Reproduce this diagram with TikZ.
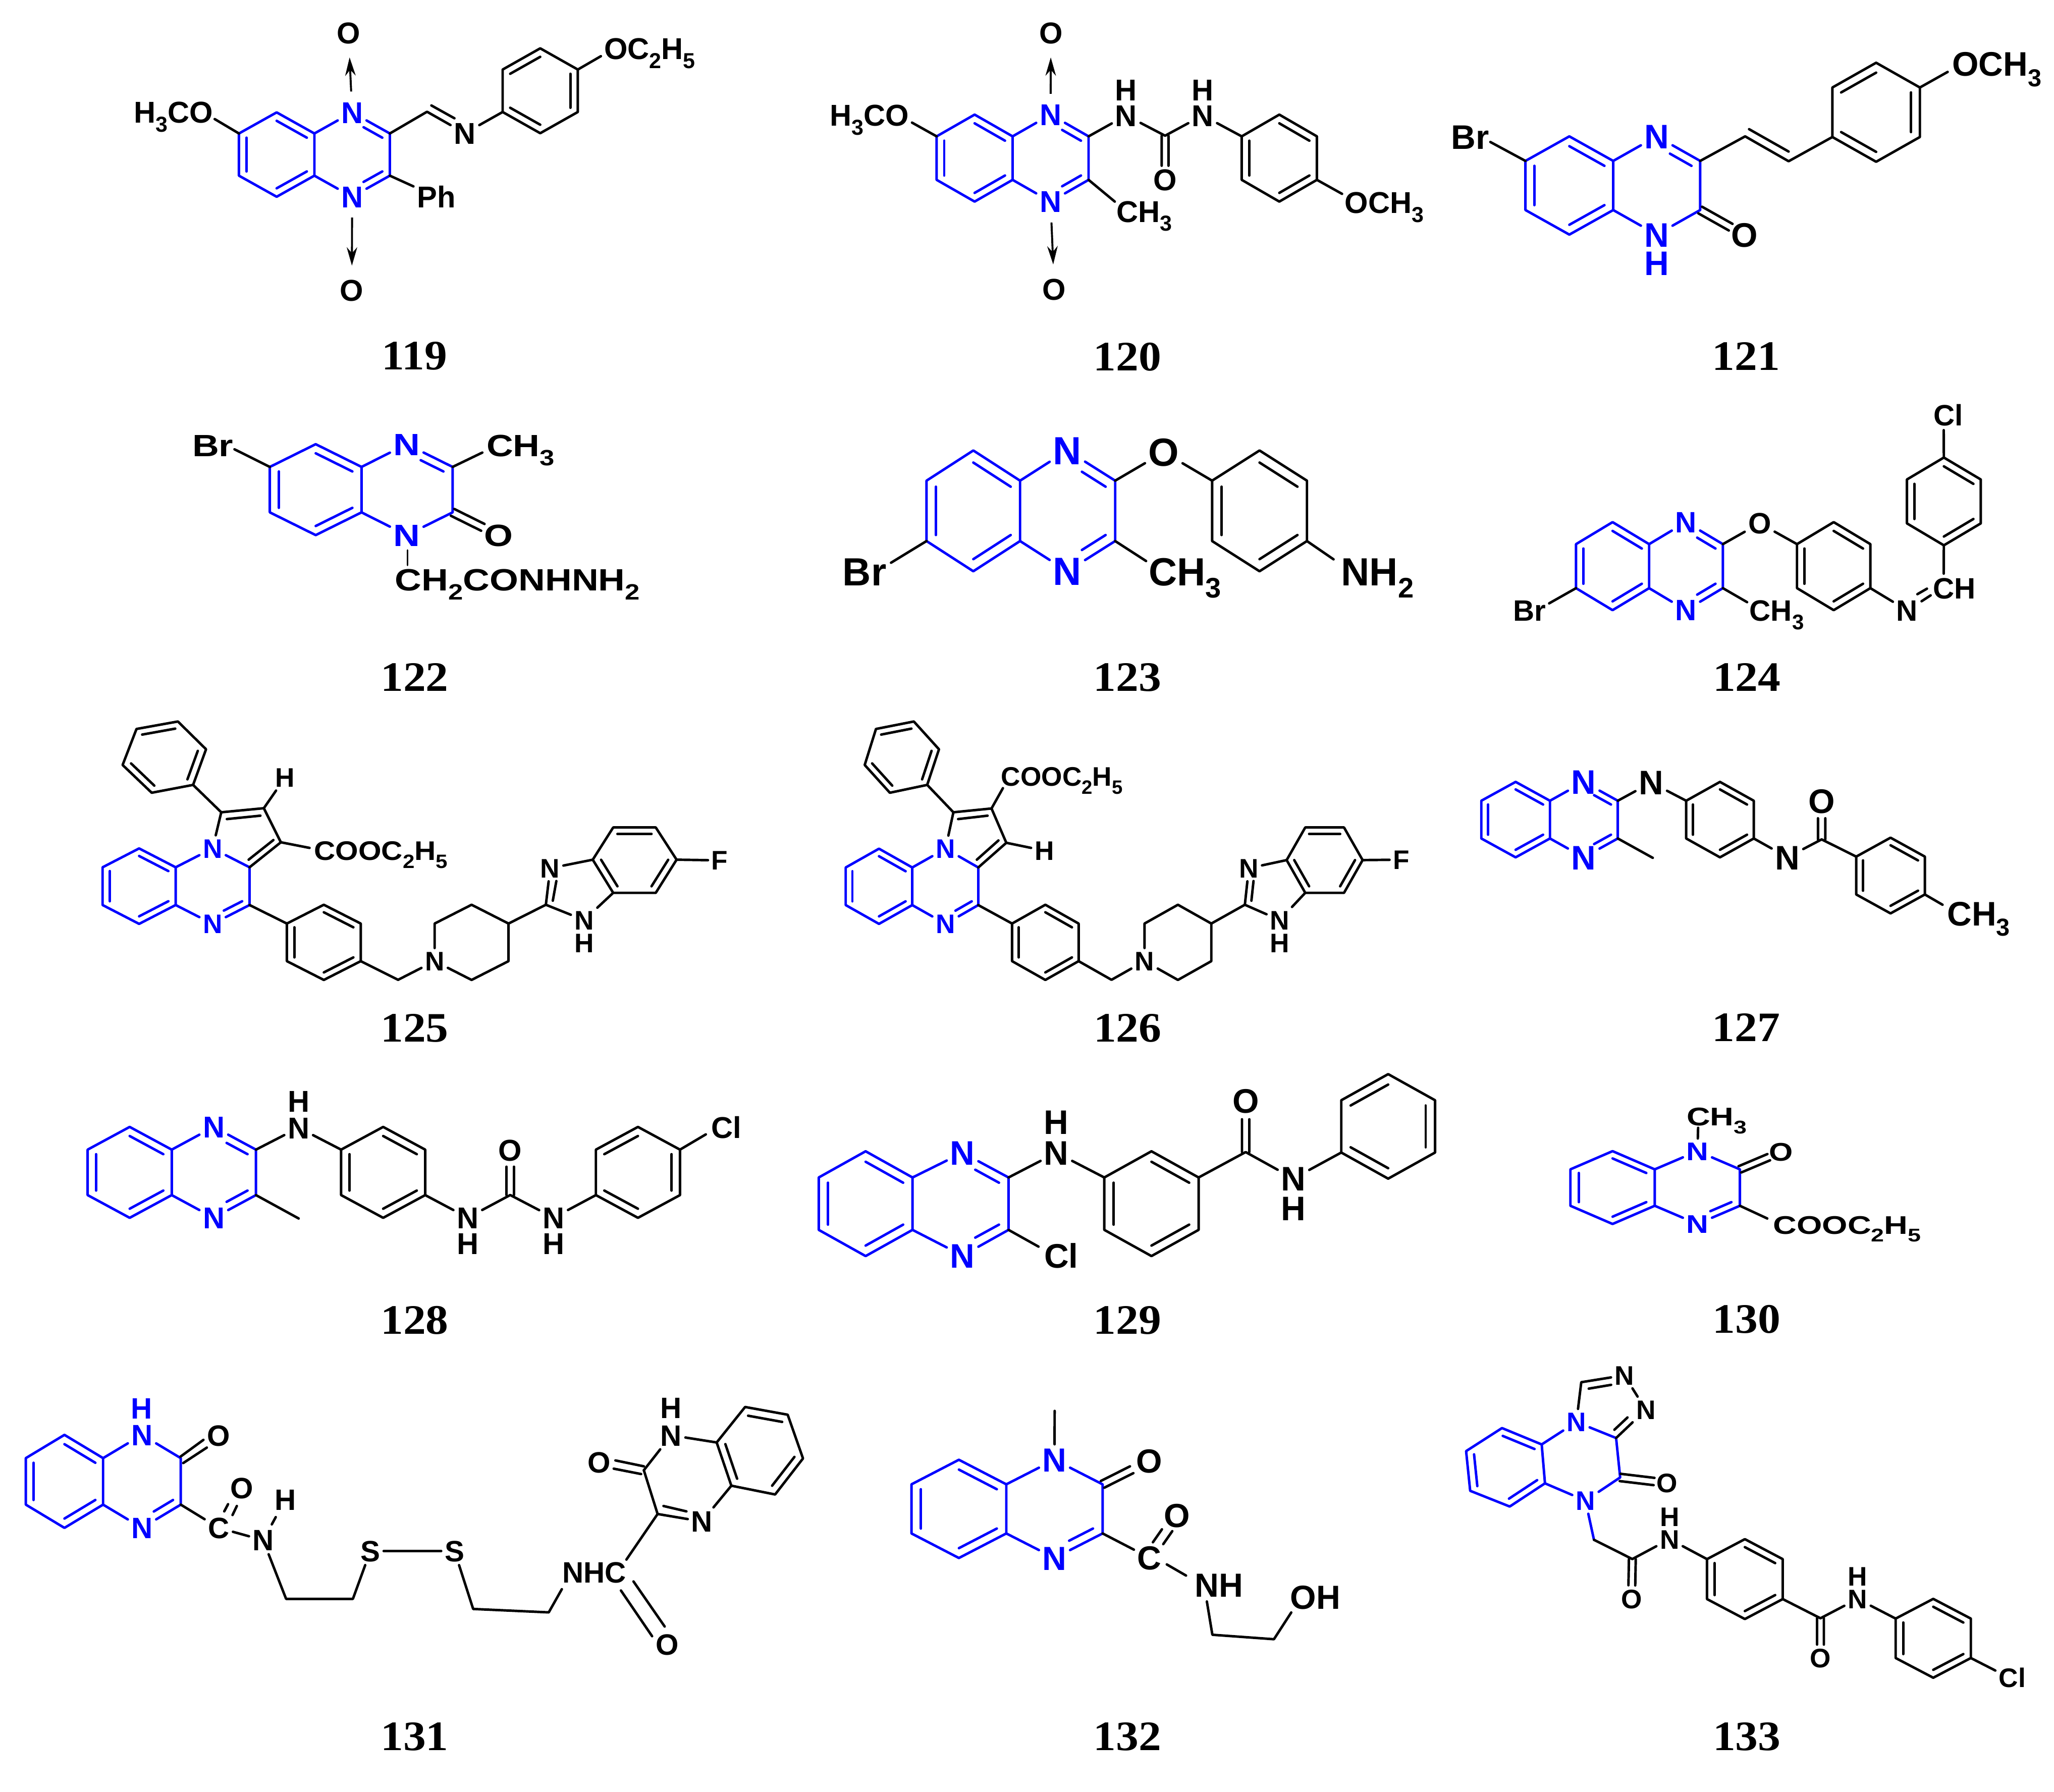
\documentclass[tikz,border=0pt]{standalone}
\usepackage{fontspec}
\setmainfont{Liberation Sans}
\newfontfamily\numfont{Liberation Serif}
\usetikzlibrary{calc,arrows.meta}
\definecolor{qblue}{RGB}{0,0,255}
\tikzset{
	bond/.style={line width=1.9pt,line cap=round,line join=round},
	qbond/.style={bond,color=qblue},
	oxide/.style={-{Stealth[length=14pt,width=8pt]},line width=1.5pt,shorten <=5pt,shorten >=8pt},
	atom/.style={font=\fontsize{#1}{#1}\selectfont\bfseries,text height=0.716*#1pt,text depth=0pt,inner sep=2.5pt},
	qatom/.style={atom=#1,text=qblue},
	numlab/.style={font=\fontsize{32}{32}\selectfont\numfont\bfseries,inner sep=0pt}
}
\newcommand{\sbs}[1]{\raisebox{-.3em}{\scalebox{.72}{#1}}}
\newcommand{\wx}[2][1.2]{\scalebox{#1}[1]{#2}}
\newcommand{\hexring}[5]{
	\coordinate (#1-c) at (#2,#3);
	\coordinate (#1-1) at (#2,{#3-#5});
	\coordinate (#1-2) at ({#2+#4},{#3-#5/2});
	\coordinate (#1-3) at ({#2+#4},{#3+#5/2});
	\coordinate (#1-4) at (#2,{#3+#5});
	\coordinate (#1-5) at ({#2-#4},{#3+#5/2});
	\coordinate (#1-6) at ({#2-#4},{#3-#5/2});
}
\newcommand{\hexpts}[7]{
	\coordinate (#1-1) at #2;
	\coordinate (#1-2) at #3;
	\coordinate (#1-3) at #4;
	\coordinate (#1-4) at #5;
	\coordinate (#1-5) at #6;
	\coordinate (#1-6) at #7;
	\coordinate (#1-c) at ($(#1-1)!.5!(#1-4)$);
}
\newcommand{\indbl}[4][bond]{\draw[#1] ($(#2-#3)!.2!(#2-c)$) -- ($(#2-#4)!.2!(#2-c)$);}
\newcommand{\indbln}[4][qbond]{
	\coordinate (tmpa) at ($(#2-#3)!.2!(#2-c)$);
	\coordinate (tmpb) at ($(#2-#4)!.2!(#2-c)$);
	\draw[#1] (tmpa) -- ($(tmpa)!.62!(tmpb)$);
}
\newcommand{\ringline}[2][bond]{\draw[#1] (#2-1) -- (#2-2) -- (#2-3) -- (#2-4) -- (#2-5) -- (#2-6) -- cycle;}
\newcommand{\ringA}[2][bond]{\ringline[#1]{#2}\indbl[#1]{#2}{1}{2}\indbl[#1]{#2}{3}{4}\indbl[#1]{#2}{5}{6}}
\newcommand{\ringB}[2][bond]{\ringline[#1]{#2}\indbl[#1]{#2}{1}{6}\indbl[#1]{#2}{2}{3}\indbl[#1]{#2}{4}{5}}
\newcommand{\pyrz}[4]{\draw[qbond] (#1-2) -- (#3) (#3) -- (#2-2) -- (#2-3) -- (#4) (#4) -- (#1-3);}
\newcommand{\carbonyl}[4][.69]{
	\coordinate (tmpe) at ($(#2)!#1!(#3)$);
	\draw[bond] ($(#2)!#4pt!90:(tmpe)$) -- ($(tmpe)!#4pt!-90:(#2)$);
	\draw[bond] ($(#2)!#4pt!-90:(tmpe)$) -- ($(tmpe)!#4pt!90:(#2)$);
}
\begin{document}
\begin{tikzpicture}[x=1pt,y=-1pt]
\useasboundingbox (0,0) rectangle (1568,1368);
% 119
\hexring{a119}{211.2}{118}{28.8}{32.2}
\hexring{b119}{268.8}{118}{28.8}{32.2}
\hexring{p119}{412.4}{69.3}{28.7}{32.4}
\node[qatom=23] (n119a) at (b119-1) {N};
\node[qatom=23] (n119b) at (b119-4) {N};
\node[atom=23] (o119a) at (266,24.9) {O};
\node[atom=23] (o119b) at (268.6,221.7) {O};
\node[atom=23] (t119a) at (132.5,85.7) {H\sbs{3}CO};
\node[atom=23] (t119b) at (496,36.9) {OC\sbs{2}H\sbs{5}};
\node[atom=23] (n119c) at (354.9,101.7) {N};
\node[atom=23] (t119c) at (333,150.2) {Ph};
\node[numlab] (l119) at (316.5,271.8) {\wx[1.08]{119}};
\ringA[qbond]{a119}
\pyrz{a119}{b119}{n119a}{n119b}
\indbln{b119}{2}{1}
\indbln{b119}{3}{4}
\ringB{p119}
\draw[oxide] (n119a) -- (o119a);
\draw[oxide] (n119b) -- (o119b);
\draw[bond] (a119-6) -- (163.9,90.9) coordinate (e119a);
\coordinate (c119a) at (326,85.3);
\draw[bond] (b119-2) -- (c119a) -- (n119c);
\draw[bond] (329.3,80.5) coordinate (d119a) -- (346.9,90.3) coordinate (d119b);
\draw[bond] (n119c) -- (p119-5);
\draw[bond] (p119-2) -- (458.7,42.9) coordinate (e119b);
\draw[bond] (b119-3) -- (t119c);
% 120
\hexring{a120}{744}{120.7}{29}{33.2}
\hexring{b120}{802}{120.7}{29}{33.2}
\hexring{p120}{976.6}{120.7}{28.7}{33.2}
\node[qatom=23] (n120a) at (b120-1) {N};
\node[qatom=23] (n120b) at (b120-4) {N};
\node[atom=23] (o120a) at (802.2,24.9) {O};
\node[atom=23] (o120b) at (804.8,220.8) {O};
\node[atom=23] (t120a) at (663.7,88) {H\sbs{3}CO};
\node[atom=23] (n120c) at (859.7,88.1) {N};
\node[atom=23] (h120c) at (859.7,68.6) {H};
\node[atom=23] (n120d) at (918.1,88.1) {N};
\node[atom=23] (h120d) at (918.1,68.6) {H};
\node[atom=23] (o120c) at (889.4,137.3) {O};
\node[atom=23] (t120b) at (1056.7,154.4) {OCH\sbs{3}};
\node[atom=23] (t120c) at (873.4,161.3) {CH\sbs{3}};
\node[numlab] (l120) at (860.6,272.4) {\wx[1.08]{120}};
\ringA[qbond]{a120}
\pyrz{a120}{b120}{n120a}{n120b}
\indbln{b120}{2}{1}
\indbln{b120}{3}{4}
\ringA{p120}
\draw[oxide] (n120a) -- (o120a);
\draw[oxide] (n120b) -- (o120b);
\coordinate (c120a) at (889.4,103.6);
\draw[bond] (a120-6) -- (696.2,93.6) coordinate (e120a);
\draw[bond] (b120-2) -- (n120c) (n120c) -- (c120a) -- (n120d) (n120d) -- (p120-6);
\carbonyl[.68]{c120a}{o120c}{2.6}
\draw[bond] (p120-3) -- (1024.5,148) coordinate (e120b);
\draw[bond] (b120-3) -- (851,153.9) coordinate (e120c);
% 121
\hexring{a121}{1198}{141.6}{33.5}{37.5}
\hexring{b121}{1264.7}{141.6}{33.2}{37.5}
\hexring{p121}{1432.2}{85.7}{33.4}{37.8}
\node[qatom=26] (n121a) at (b121-1) {N};
\node[qatom=26] (n121b) at (b121-4) {N};
\node[qatom=26] (h121b) at (1264.7,200.9) {H};
\node[atom=26] (o121a) at (1331.6,179.3) {O};
\node[atom=26] (t121a) at (1122.3,104.7) {Br};
\node[atom=26] (t121b) at (1524.4,48.8) {OCH\sbs{3}};
\node[numlab] (l121) at (1333,271.8) {\wx[1.08]{121}};
\ringA[qbond]{a121}
\pyrz{a121}{b121}{n121a}{n121b}
\indbln{b121}{2}{1}
\ringB{p121}
\carbonyl{b121-3}{o121a}{2.9}
\draw[bond] (a121-6) -- (1137.7,108.4) coordinate (e121a);
\coordinate (c121a) at (1332.2,104.1);
\coordinate (c121b) at (1365.4,123.1);
\draw[bond] (b121-2) -- (c121a) -- (c121b) -- (p121-5);
\draw[bond] (1335.2,98.6) coordinate (d121a) -- (1365.4,115.7) coordinate (d121b);
\draw[bond] (p121-2) -- (1486.8,54.9) coordinate (e121b);
% 122
\hexring{a122}{241}{373.8}{35}{34.7}
\hexring{b122}{310.5}{373.8}{35}{34.7}
\node[qatom=23.5] (n122a) at (b122-1) {\wx{N}};
\node[qatom=23.5] (n122b) at (b122-4) {\wx{N}};
\node[atom=23.5] (o122a) at (380.5,408.5) {\wx{O}};
\node[atom=23.5] (t122a) at (162.5,339.9) {\wx{Br}};
\node[atom=23.5] (t122b) at (397.4,339.9) {\wx{CH\sbs{3}}};
\node[atom=23.5] (t122c) at (395,442.4) {\wx{CH\sbs{2}CONHNH\sbs{2}}};
\node[numlab] (l122) at (316.5,517) {\wx[1.08]{122}};
\ringA[qbond]{a122}
\pyrz{a122}{b122}{n122a}{n122b}
\indbln{b122}{2}{1}
\carbonyl[.66]{b122-3}{o122a}{2.9}
\draw[bond] (a122-6) -- (179,343) coordinate (e122a);
\draw[bond] (b122-2) -- (368.2,345.5) coordinate (e122b);
\draw[bond,line width=1.4pt] (311.1,420) coordinate (e122c) -- (311.1,431.5) coordinate (e122d);
% 123
\hexring{a123}{743}{390}{35.7}{46.1}
\hexring{b123}{814.8}{390}{36.5}{46.1}
\hexring{p123}{961.5}{390}{36.2}{46.1}
\node[qatom=30] (n123a) at (b123-1) {N};
\node[qatom=30] (n123b) at (b123-4) {N};
\node[atom=30] (o123a) at (888.4,345.2) {O};
\node[atom=30] (t123a) at (660,436.4) {Br};
\node[atom=30] (t123b) at (904.7,436.4) {CH\sbs{3}};
\node[atom=30] (t123c) at (1051.5,436.4) {NH\sbs{2}};
\node[numlab] (l123) at (860.5,517) {\wx[1.08]{123}};
\ringA[qbond]{a123}
\pyrz{a123}{b123}{n123a}{n123b}
\indbln{b123}{2}{1}
\indbln{b123}{3}{4}
\ringA{p123}
\draw[bond] (b123-2) -- (o123a) (o123a) -- (p123-6);
\draw[bond] (a123-5) -- (680.2,429.6) coordinate (e123a);
\draw[bond] (b123-3) -- (874.9,428.3) coordinate (e123b);
\draw[bond] (p123-3) -- (1018,427) coordinate (e123c);
% 124
\hexring{a124}{1231}{432.2}{27.9}{33.6}
\hexring{b124}{1287}{432.2}{28.2}{33.6}
\hexring{p124}{1399.8}{432.2}{28}{33.6}
\hexring{p124b}{1483.9}{382.8}{28.2}{33.5}
\node[qatom=22.5] (n124a) at (b124-1) {N};
\node[qatom=22.5] (n124b) at (b124-4) {N};
\node[atom=22.5] (o124a) at (1343.3,399.5) {O};
\node[atom=22.5] (t124a) at (1167.7,465.9) {Br};
\node[atom=22.5] (t124b) at (1356.3,465.9) {CH\sbs{3}};
\node[atom=22.5] (n124c) at (1455.8,465.9) {N};
\node[atom=22.5] (t124c) at (1491.8,448.9) {CH};
\node[atom=22.5] (t124d) at (1487.2,316.9) {Cl};
\node[numlab] (l124) at (1333.5,517) {\wx[1.08]{124}};
\ringA[qbond]{a124}
\pyrz{a124}{b124}{n124a}{n124b}
\indbln{b124}{2}{1}
\indbln{b124}{3}{4}
\ringA{p124}
\ringA{p124b}
\draw[bond] (b124-2) -- (o124a) (o124a) -- (p124-6);
\draw[bond] (a124-5) -- (1182.6,460.6) coordinate (e124a);
\draw[bond] (b124-3) -- (1333.7,459.7) coordinate (e124b);
\draw[bond] (p124-3) -- (n124c);
\draw[bond] (1466.9,459) coordinate (d124a) -- (1473.8,454.5) coordinate (d124b);
\draw[bond] (1463.7,453.6) coordinate (d124c) -- (1471,449.4) coordinate (d124d);
\draw[bond] (p124b-4) -- (1483.8,437.9) coordinate (e124c);
\draw[bond] (p124b-1) -- (1483.8,328.4) coordinate (e124d);
% 125
\hexring{a125}{106.2}{676.5}{27.9}{28.8}
\hexring{b125}{162.3}{676.5}{28.2}{28.8}
\hexpts{f125}{(135.8,550.8)}{(157.3,572)}{(147.4,599.2)}{(115.8,605.2)}{(93.6,584)}{(104.2,556.5)}
\hexring{p125}{247.2}{719.4}{28.2}{28.7}
\hexring{r125}{360}{719.4}{28.2}{28.7}
\hexpts{s125}{(468.1,631.7)}{(500.6,631.7)}{(516.5,656.3)}{(500.6,681.6)}{(468.1,681.6)}{(452.5,656.3)}
\coordinate (c125a) at (168.9,620.1);
\coordinate (c125b) at (201.4,617);
\coordinate (c125c) at (214.4,643);
\coordinate (c125d) at (416.7,690.7);
\coordinate (c125e) at (303.9,748);
\node[qatom=20.5] (n125a) at (b125-1) {N};
\node[qatom=20.5] (n125b) at (b125-4) {N};
\node[atom=20.5] (h125a) at (217.7,593.5) {H};
\node[atom=20.5] (t125a) at (290.8,649.4) {\wx[1.1]{COOC\sbs{2}H\sbs{5}}};
\node[atom=20.5] (n125c) at (r125-5) {N};
\node[atom=20.5] (n125d) at (420,662.8) {N};
\node[atom=20.5] (n125e) at (445.9,702.4) {N};
\node[atom=20.5] (h125e) at (445.9,719.9) {H};
\node[atom=20.5] (t125b) at (549.4,656.8) {F};
\node[numlab] (l125) at (316.5,784.9) {\wx[1.08]{125}};
\ringA[qbond]{a125}
\draw[qbond] (a125-2) -- (n125a) (n125a) -- (b125-2) -- (b125-3) -- (n125b) (n125b) -- (a125-3);
\indbln{b125}{3}{4}
\ringB{f125}
\ringA{p125}
\draw[bond] (c125a) -- (f125-3);
\draw[bond] (n125a) -- (c125a) -- (c125b) -- (c125c) -- (b125-2);
\draw[bond] (173.2,625.3) coordinate (d125a) -- (198.8,622.7) coordinate (d125b);
\draw[bond] (189.8,656.3) coordinate (d125c) -- (208.7,641.3) coordinate (d125d);
\draw[bond] (c125b) -- (h125a);
\draw[bond] (c125c) -- (236.3,647.3) coordinate (e125a);
\draw[bond] (b125-3) -- (p125-6);
\draw[bond] (p125-3) -- (c125e) -- (n125c);
\draw[bond] (n125c) -- (r125-6) -- (r125-1) -- (r125-2) -- (r125-3) -- (r125-4) -- (n125c);
\draw[bond] (r125-2) -- (c125d);
\draw[bond] (c125d) -- (n125d);
\draw[bond] (422,687.6) coordinate (d125e) -- (424.7,672.6) coordinate (d125f);
\draw[bond] (c125d) -- (n125e);
\draw[bond] (n125d) -- (s125-6);
\draw[bond] (n125e) -- (s125-5);
\ringA{s125}
\draw[bond] (s125-3) -- (t125b);
% 126
\hexring{a126}{671}{676.6}{25.4}{28.7}
\hexring{b126}{721.8}{676.6}{25}{28.7}
\hexpts{f126}{(697.6,550.8)}{(716.8,572)}{(707.8,599.2)}{(679.3,605.2)}{(660.1,584)}{(668.7,556.5)}
\hexring{p126}{798}{719.4}{25.4}{28.7}
\hexring{r126}{899.2}{719.4}{25.5}{28.7}
\hexpts{s126}{(996.4,631.7)}{(1026,631.7)}{(1040.2,656.6)}{(1026,681.6)}{(996.4,681.6)}{(982.2,656.6)}
\coordinate (c126a) at (727.8,620.1);
\coordinate (c126b) at (756.9,617.2);
\coordinate (c126c) at (768.2,643.4);
\coordinate (c126d) at (950.3,690.7);
\coordinate (c126e) at (848.5,748);
\node[qatom=20.5] (n126a) at (b126-1) {N};
\node[qatom=20.5] (n126b) at (b126-4) {N};
\node[atom=20.5] (h126a) at (797.4,649.4) {H};
\node[atom=20.5] (t126a) at (810.7,592.6) {COOC\sbs{2}H\sbs{5}};
\node[atom=20.5] (n126c) at (r126-5) {N};
\node[atom=20.5] (n126d) at (953.3,662.8) {N};
\node[atom=20.5] (n126e) at (976.9,702.4) {N};
\node[atom=20.5] (h126e) at (976.9,719.9) {H};
\node[atom=20.5] (t126b) at (1069.7,656.3) {F};
\node[numlab] (l126) at (860.8,784.9) {\wx[1.08]{126}};
\ringA[qbond]{a126}
\draw[qbond] (a126-2) -- (n126a) (n126a) -- (b126-2) -- (b126-3) -- (n126b) (n126b) -- (a126-3);
\indbln{b126}{3}{4}
\ringB{f126}
\ringA{p126}
\draw[bond] (c126a) -- (f126-3);
\draw[bond] (n126a) -- (c126a) -- (c126b) -- (c126c) -- (b126-2);
\draw[bond] (731.4,625.3) coordinate (d126a) -- (753.9,622.7) coordinate (d126b);
\draw[bond] (745.7,656.3) coordinate (d126c) -- (762.2,641.6) coordinate (d126d);
\draw[bond] (c126c) -- (787.1,647.3) coordinate (e126a);
\draw[bond] (c126b) -- (765.6,601.7) coordinate (e126b);
\draw[bond] (b126-3) -- (p126-6);
\draw[bond] (p126-3) -- (c126e) -- (n126c);
\draw[bond] (n126c) -- (r126-6) -- (r126-1) -- (r126-2) -- (r126-3) -- (r126-4) -- (n126c);
\draw[bond] (r126-2) -- (c126d);
\draw[bond] (c126d) -- (n126d);
\draw[bond] (955.3,687.6) coordinate (d126e) -- (956.9,672.6) coordinate (d126f);
\draw[bond] (c126d) -- (n126e);
\draw[bond] (n126d) -- (s126-6);
\draw[bond] (n126e) -- (s126-5);
\ringA{s126}
\draw[bond] (s126-3) -- (t126b);
% 127
\hexring{a127}{1157}{625.7}{26.2}{28.8}
\hexring{b127}{1209}{625.7}{26}{28.8}
\hexring{p127}{1313}{625.7}{25.8}{28.8}
\hexring{p127b}{1443.2}{668.4}{26.2}{28.9}
\coordinate (c127a) at (1390.6,640.8);
\node[qatom=26] (n127a) at (b127-1) {N};
\node[qatom=26] (n127b) at (b127-4) {N};
\node[atom=26] (n127c) at (1260.5,597.4) {N};
\node[atom=26] (n127d) at (1364.5,654.5) {N};
\node[atom=26] (o127a) at (1390.6,611.5) {O};
\node[atom=26] (t127a) at (1510.4,697.5) {CH\sbs{3}};
\node[numlab] (l127) at (1333,784.4) {\wx[1.08]{127}};
\ringA[qbond]{a127}
\pyrz{a127}{b127}{n127a}{n127b}
\indbln{b127}{2}{1}
\indbln{b127}{3}{4}
\ringA{p127}
\ringA{p127b}
\draw[bond] (b127-2) -- (n127c) (n127c) -- (p127-6);
\draw[bond] (b127-3) -- (1261.7,654.9) coordinate (e127a);
\draw[bond] (p127-3) -- (n127d) (n127d) -- (c127a) -- (p127b-6);
\carbonyl[.55]{c127a}{o127a}{2.8}
\draw[bond] (p127b-3) -- (1482.9,690.7) coordinate (e127b);
% 128
\hexring{a128}{99}{895}{32.1}{34.7}
\hexring{b128}{163.2}{895}{32.2}{34.7}
\hexring{p128}{292.5}{895}{32.1}{34.7}
\hexring{p128b}{487}{895}{32.1}{34.7}
\coordinate (c128a) at (389.5,912.3);
\node[qatom=23] (n128a) at (b128-1) {N};
\node[qatom=23] (n128b) at (b128-4) {N};
\node[atom=23] (n128c) at (228,860.9) {N};
\node[atom=23] (h128c) at (228,840.7) {H};
\node[atom=23] (n128d) at (357.1,929.6) {N};
\node[atom=23] (h128d) at (357.1,949.5) {H};
\node[atom=23] (n128e) at (422.6,929.6) {N};
\node[atom=23] (h128e) at (422.6,949.5) {H};
\node[atom=23] (o128a) at (389.5,878) {O};
\node[atom=23] (t128a) at (554.4,860.8) {Cl};
\node[numlab] (l128) at (316.5,1008) {\wx[1.08]{128}};
\ringA[qbond]{a128}
\pyrz{a128}{b128}{n128a}{n128b}
\indbln{b128}{2}{1}
\indbln{b128}{3}{4}
\ringA{p128}
\ringB{p128b}
\draw[bond] (b128-2) -- (n128c) (n128c) -- (p128-6);
\draw[bond] (b128-3) -- (228,930.2) coordinate (e128a);
\draw[bond] (p128-3) -- (n128d) (n128d) -- (c128a) -- (n128e) (n128e) -- (p128b-5);
\carbonyl[.63]{c128a}{o128a}{2.8}
\draw[bond] (p128b-2) -- (538.8,866) coordinate (e128b);
% 129
\hexring{a129}{660.8}{918.9}{35.8}{40}
\hexring{b129}{733.4}{918.9}{36.5}{40}
\hexring{p129}{879}{918.9}{36}{40}
\hexring{p129b}{1059.7}{859.9}{35.8}{39.9}
\coordinate (c129a) at (950.9,879.5);
\node[qatom=26] (n129a) at (734.8,880) {N};
\node[qatom=26] (n129b) at (734.8,958.5) {N};
\node[atom=26] (n129c) at (806.4,880) {N};
\node[atom=26] (h129c) at (806.4,856.7) {H};
\node[atom=26] (n129d) at (987.4,899.7) {N};
\node[atom=26] (h129d) at (987.4,922.3) {H};
\node[atom=26] (o129a) at (950.9,840.4) {O};
\node[atom=26] (t129a) at (810.1,958.6) {Cl};
\node[numlab] (l129) at (860.5,1008) {\wx[1.08]{129}};
\ringA[qbond]{a129}
\pyrz{a129}{b129}{n129a}{n129b}
\indbln{b129}{2}{1}
\indbln{b129}{3}{4}
\ringA{p129}
\ringB{p129b}
\draw[bond] (b129-2) -- (n129c) (n129c) -- (p129-6);
\draw[bond] (p129-2) -- (c129a) -- (n129d) (n129d) -- (p129b-5);
\carbonyl[.64]{c129a}{o129a}{2.8}
\draw[bond] (b129-3) -- (792.8,951.7) coordinate (e129a);
% 130
\hexring{a130}{1231}{906.6}{32.2}{27.8}
\hexring{b130}{1295.8}{906.6}{32.4}{27.8}
\node[qatom=19.5] (n130a) at (b130-1) {\wx{N}};
\node[qatom=19.5] (n130b) at (b130-4) {\wx{N}};
\node[atom=19.5] (o130a) at (1359.7,879.4) {\wx{O}};
\node[atom=19.5] (t130a) at (1310.6,852.5) {\wx[1.28]{CH\sbs{3}}};
\node[atom=19.5] (t130b) at (1410,935) {\wx[1.28]{COOC\sbs{2}H\sbs{5}}};
\node[numlab] (l130) at (1333.3,1007) {\wx[1.08]{130}};
\ringA[qbond]{a130}
\pyrz{a130}{b130}{n130a}{n130b}
\indbln{b130}{3}{4}
\draw[bond] (n130a) -- (1296.3,861) coordinate (e130a);
\carbonyl[.7]{b130-2}{o130a}{2.6}
\draw[bond] (b130-3) -- (1349.1,930.2) coordinate (e130b);
% 131
\hexring{a131}{49.2}{1130.9}{29.5}{35.5}
\hexring{b131}{108.4}{1130.9}{29.6}{35.5}
\hexpts{r131}{(568.8,1074.1)}{(601.3,1080)}{(613,1113.4)}{(591.7,1140.9)}{(558.3,1134.2)}{(547.1,1101.2)}
\coordinate (c131a) at (218.4,1220.6);
\coordinate (c131b) at (269.4,1220.6);
\coordinate (c131c) at (361.2,1228.3);
\coordinate (c131d) at (418.9,1230.9);
\coordinate (c131e) at (502,1155.8);
\coordinate (c131f) at (491.5,1122.4);
\node[qatom=22.5] (n131a) at (b131-1) {N};
\node[qatom=22.5] (h131a) at (108.2,1075.2) {H};
\node[qatom=22.5] (n131b) at (b131-4) {N};
\node[atom=22.5] (o131a) at (167,1095.7) {O};
\node[atom=22.5] (t131a) at (167,1166.4) {C};
\node[atom=22.5] (o131b) at (184.6,1136) {O};
\node[atom=22.5] (n131c) at (200.9,1175.8) {N};
\node[atom=22.5] (h131c) at (218,1145) {H};
\node[atom=22.5] (s131a) at (282.7,1184.1) {S};
\node[atom=22.5] (s131b) at (347,1184.1) {S};
\node[atom=22.5] (t131b) at (453.7,1200.4) {NHC};
\node[atom=22.5] (o131c) at (509.5,1255.4) {O};
\node[atom=22.5] (n131d) at (535.8,1161.5) {N};
\node[atom=22.5] (n131e) at (512.4,1095.7) {N};
\node[atom=22.5] (h131e) at (512.4,1074.6) {H};
\node[atom=22.5] (o131d) at (457.3,1116.3) {O};
\node[numlab] (l131) at (316.5,1326) {\wx[1.08]{131}};
\ringA[qbond]{a131}
\pyrz{a131}{b131}{n131a}{n131b}
\indbln{b131}{3}{4}
\ringA{r131}
\draw[bond] (137.8,1112) coordinate (d131a) -- (155.3,1099.2) coordinate (d131b);
\draw[bond] (139.9,1116.9) coordinate (d131c) -- (157.9,1105.1) coordinate (d131d);
\draw[bond] (b131-3) -- (t131a);
\draw[bond] (171.2,1153.8) coordinate (d131e) -- (174.1,1148.3) coordinate (d131f);
\draw[bond] (177.5,1156.6) coordinate (d131g) -- (180.8,1149.7) coordinate (d131h);
\draw[bond] (t131a) -- (n131c);
\draw[bond] (207.5,1163.7) coordinate (d131i) -- (210.5,1158.2) coordinate (d131j);
\draw[bond] (n131c) -- (c131a) -- (c131b) -- (s131a);
\draw[bond] (s131a) -- (s131b);
\draw[bond] (s131b) -- (c131c) -- (c131d) -- (428.9,1213.2) coordinate (e131a);
\draw[bond] (478.2,1190.6) coordinate (e131b) -- (c131e);
\draw[bond] (483.6,1207.3) coordinate (d131k) -- (507.4,1241.7) coordinate (d131l);
\draw[bond] (474,1214.2) coordinate (d131m) -- (497.8,1249.1) coordinate (d131n);
\draw[bond] (c131f) -- (c131e) -- (n131d);
\draw[bond] (506.5,1149.7) coordinate (d131o) -- (524,1153.8) coordinate (d131p);
\draw[bond] (n131d) -- (r131-5);
\draw[bond] (r131-6) -- (n131e);
\draw[bond] (n131e) -- (c131f);
\draw[bond] (469.8,1114.9) coordinate (d131q) -- (491.5,1119.4) coordinate (d131r);
\draw[bond] (468.5,1121.2) coordinate (d131s) -- (489.4,1125.3) coordinate (d131t);
% 132
\hexring{a132}{732}{1151.9}{36.2}{37.5}
\hexring{b132}{805}{1151.9}{36.7}{37.5}
\coordinate (c132a) at (921.3,1222.6);
\coordinate (c132b) at (925.5,1248);
\coordinate (c132c) at (972.5,1251.4);
\node[qatom=25.5] (n132a) at (b132-1) {N};
\node[qatom=25.5] (n132b) at (b132-4) {N};
\node[atom=25.5] (o132a) at (877.5,1115.2) {O};
\node[atom=25.5] (t132a) at (877.5,1189.2) {C};
\node[atom=25.5] (o132b) at (898.6,1156.8) {O};
\node[atom=25.5] (t132b) at (930.5,1209.9) {NH};
\node[atom=25.5] (t132c) at (1004.2,1219.2) {OH};
\node[numlab] (l132) at (860.5,1326) {\wx[1.08]{132}};
\ringA[qbond]{a132}
\pyrz{a132}{b132}{n132a}{n132b}
\indbln{b132}{3}{4}
\draw[bond] (n132a) -- (805.1,1077.1) coordinate (e132a);
\carbonyl[.62]{b132-2}{o132a}{2.9}
\draw[bond] (b132-3) -- (t132a);
\draw[bond] (880.1,1177.4) coordinate (d132a) -- (887,1167.5) coordinate (d132b);
\draw[bond] (888,1178.8) coordinate (d132c) -- (894.9,1168.9) coordinate (d132d);
\draw[bond] (890.7,1194.3) coordinate (e132b) -- (905.4,1202.8) coordinate (e132c);
\draw[bond] (c132a) -- (c132b) -- (c132c) -- (985.7,1231) coordinate (e132d);
% 133
\hexpts{a133}{(1146.6,1090.2)}{(1176.9,1102.7)}{(1179.4,1132.4)}{(1152.5,1150.1)}{(1122.3,1138.1)}{(1119.2,1107.8)}
\hexring{p133}{1332}{1205.5}{28.9}{30.5}
\hexring{p133b}{1475.8}{1250.7}{28.7}{30.1}
\coordinate (c133a) at (1233.7,1097.8);
\coordinate (c133b) at (1236.8,1127.9);
\coordinate (c133c) at (1207.1,1055.2);
\coordinate (c133d) at (1216.8,1175.5);
\coordinate (c133e) at (1246.1,1190.2);
\coordinate (c133f) at (1389.7,1235.4);
\node[qatom=20.5] (n133a) at (1203.4,1085.6) {N};
\node[qatom=20.5] (n133b) at (1210.3,1145.6) {N};
\node[atom=20.5] (n133c) at (1239.9,1049.9) {N};
\node[atom=20.5] (n133d) at (1256.4,1076.2) {N};
\node[atom=20.5] (o133a) at (1272.7,1132.2) {O};
\node[atom=20.5] (o133b) at (1245.5,1220.6) {O};
\node[atom=20.5] (n133e) at (1274.5,1175) {N};
\node[atom=20.5] (h133e) at (1274.5,1157.8) {H};
\node[atom=20.5] (o133c) at (1389.7,1265.8) {O};
\node[atom=20.5] (n133f) at (1418,1220.6) {N};
\node[atom=20.5] (h133f) at (1418,1203.2) {H};
\node[atom=20.5] (t133a) at (1536.2,1280.8) {Cl};
\node[numlab] (l133) at (1333.5,1326) {\wx[1.08]{133}};
\ringA[qbond]{a133}
\draw[qbond] (a133-2) -- (n133a) (n133a) -- (c133a) -- (c133b) -- (n133b) (n133b) -- (a133-3);
\draw[qbond] (n133b) -- (c133d);
\draw[bond] (n133a) -- (c133c) -- (n133c);
\draw[bond] (1212.8,1060.1) coordinate (d133a) -- (1229.9,1057.2) coordinate (d133b);
\draw[bond] (n133c) -- (n133d);
\draw[bond] (n133d) -- (c133a);
\draw[bond] (1232.4,1091.5) coordinate (d133c) -- (1242.4,1082.1) coordinate (d133d);
\carbonyl[.72]{c133b}{o133a}{2.8}
\draw[bond] (c133d) -- (c133e) -- (n133e) (n133e) -- (p133-6);
\carbonyl[.66]{c133e}{o133b}{2.6}
\ringA{p133}
\draw[bond] (p133-3) -- (c133f) -- (n133f) (n133f) -- (p133b-6);
\carbonyl[.66]{c133f}{o133c}{2.6}
\ringA{p133b}
\draw[bond] (p133b-3) -- (1523.2,1275.3) coordinate (e133a);
\end{tikzpicture}
\end{document}
